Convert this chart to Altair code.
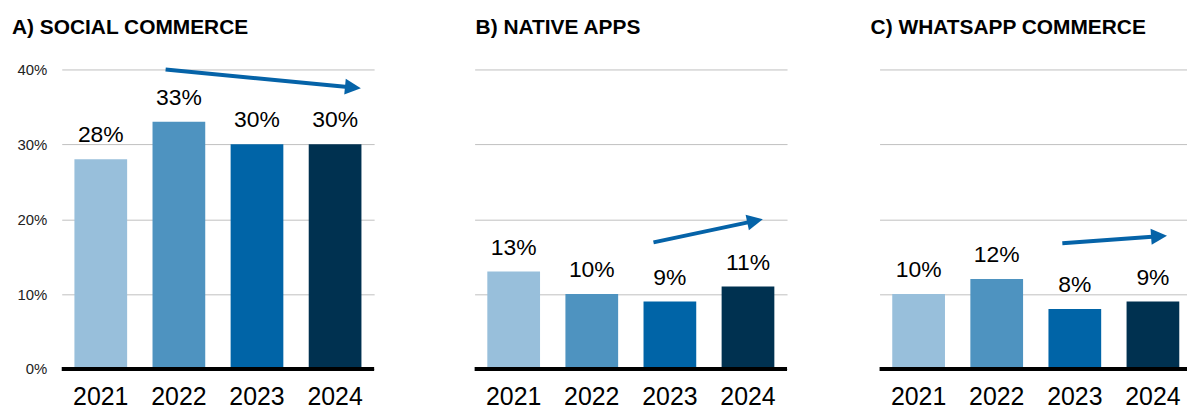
import math
import altair as alt
import pandas as pd

years = ["2021", "2022", "2023", "2024"]
panel_titles = ["A) SOCIAL COMMERCE", "B) NATIVE APPS", "C) WHATSAPP COMMERCE"]
social_values = [28, 33, 30, 30]
native_values = [13, 10, 9, 11]
whatsapp_values = [10, 12, 8, 9]
bar_colors = ["#98BFDB", "#4E93C0", "#0064A7", "#003150"]

# trend arrows (x in band units 0..4, y in %)
arrow_x0 = [1.33, 2.29, 2.34]
arrow_y0 = [40.0, 16.9, 16.8]
arrow_x1 = [3.83, 3.69, 3.68]
arrow_y1 = [37.5, 20.0, 17.8]

ARROW_COLOR = "#0563A8"
FONT = "Liberation Sans"
W, H = 314, 301
PX_X = W / 4.0
PX_Y = H / 40.0
HEAD = 16.0


def panel(idx, values, show_y, title_dx, title_offset):
    df = pd.DataFrame({"year": years, "value": values,
                       "label": [f"{v}%" for v in values]})
    xenc = alt.X("year:N", sort=years,
                 scale=alt.Scale(paddingInner=0.325, paddingOuter=0.1625),
                 axis=alt.Axis(title=None, labelAngle=0, labelFontSize=25,
                               labelColor="black", ticks=False, domain=False,
                               labelPadding=16, labelFont=FONT, grid=False))
    if show_y:
        yaxis = alt.Axis(title=None, values=[0, 10, 20, 30, 40],
                         labelExpr="datum.value + '%'", labelFontSize=15,
                         labelColor="#222222", ticks=False, domain=False,
                         labelPadding=15, grid=True, gridColor="#C0C0C0",
                         gridWidth=1, minExtent=54, maxExtent=54, labelFont=FONT)
    else:
        yaxis = alt.Axis(title=None, values=[0, 10, 20, 30, 40], labels=False,
                         ticks=False, domain=False, grid=True,
                         gridColor="#C0C0C0", gridWidth=1,
                         minExtent=0, maxExtent=0)
    yenc = alt.Y("value:Q", scale=alt.Scale(domain=[0, 40], nice=False), axis=yaxis)

    base = alt.Chart(df)
    bars = base.mark_bar().encode(
        x=xenc, y=yenc,
        color=alt.Color("year:N", scale=alt.Scale(domain=years, range=bar_colors),
                        legend=None))
    text = base.mark_text(fontSize=23, dy=-17, baseline="alphabetic",
                          font=FONT, color="black").encode(
        x=alt.X("year:N", sort=years), y=alt.Y("value:Q"), text="label:N")
    zero = alt.Chart(pd.DataFrame({"value": [0]})).mark_rule(
        color="black", strokeWidth=4).encode(y="value:Q")
    main = alt.layer(bars, text, zero)

    # arrow geometry
    x0, y0, x1, y1 = arrow_x0[idx], arrow_y0[idx], arrow_x1[idx], arrow_y1[idx]
    sdx = (x1 - x0) * PX_X
    sdy = -(y1 - y0) * PX_Y
    length = math.hypot(sdx, sdy)
    ux, uy = sdx / length, sdy / length
    hx = x1 - ux * (HEAD / 2) / PX_X
    hy = y1 + uy * (HEAD / 2) / PX_Y
    angle = math.degrees(math.atan2(sdy, sdx)) % 360
    adf = pd.DataFrame({"ax0": [x0], "ay0": [y0], "ax1": [hx], "ay1": [hy],
                        "angle": [angle]})
    xq = alt.Scale(domain=[0, 4], nice=False, zero=False)
    shaft = alt.Chart(adf).mark_rule(color=ARROW_COLOR, strokeWidth=4).encode(
        x=alt.X("ax0:Q", scale=xq, axis=None), x2="ax1:Q",
        y=alt.Y("ay0:Q"), y2="ay1:Q")
    head = alt.Chart(adf).mark_point(
        shape="M-1,-1L1,0L-1,1Z", filled=True, opacity=1,
        color=ARROW_COLOR, size=HEAD * HEAD, strokeWidth=0).encode(
        x=alt.X("ax1:Q", scale=xq, axis=None), y=alt.Y("ay1:Q"),
        angle=alt.Angle("angle:Q", scale=None))
    arrow = alt.layer(shaft, head)

    return alt.layer(main, arrow).resolve_scale(x="independent").properties(
        width=W, height=H,
        title=alt.TitleParams(panel_titles[idx], anchor="start", frame="group",
                              fontSize=21, fontWeight="bold", font=FONT,
                              color="black", dx=title_dx, offset=title_offset))


pa = panel(0, social_values, True, -50, 25)
pb = panel(1, native_values, False, 1, 32)
pc = panel(2, whatsapp_values, False, -9, 32)

# fixed-size canvas (1185 x 397) so the page never overflows the window
chart = alt.hconcat(
    pa, alt.hconcat(pb, pc, spacing=93, bounds="flush"),
    spacing=101, bounds="flush"
).properties(
    autosize=alt.AutoSizeParams(type="none"),
    padding={"top": 60, "left": 54, "right": 1131, "bottom": 337}
).configure(font=FONT).configure_view(strokeWidth=0, stroke="transparent")

chart.save("out.html", embed_options={"renderer": "svg", "actions": False})
